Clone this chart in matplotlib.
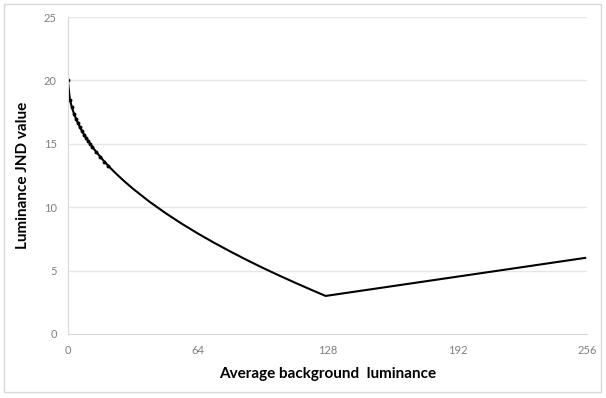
import matplotlib
matplotlib.use("Agg")
import matplotlib.pyplot as plt
from matplotlib.patches import Rectangle

# background luminance samples and JND values
bg = [0, 1, 2, 3, 4, 5, 6, 7, 8, 9, 10, 11, 12, 14, 16, 18, 20, 24, 28, 32,
      40, 48, 56, 64, 72, 80, 88, 96, 104, 112, 120, 127, 128, 160, 192, 224, 255]
jnd = [20.0, 18.49, 17.87, 17.39, 16.98, 16.63, 16.30, 16.01, 15.73, 15.47, 15.23,
       15.00, 14.77, 14.36, 13.97, 13.60, 13.25, 12.61, 12.02, 11.47,
       10.46, 9.55, 8.71, 7.93, 7.20, 6.51, 5.85, 5.22, 4.62, 4.04, 3.48, 3.00,
       3.02, 3.77, 4.52, 5.27, 6.00]

xticks = [0, 64, 128, 192, 256]
yticks = [0, 5, 10, 15, 20, 25]

plt.rcParams['font.family'] = ['Lato', 'DejaVu Sans']

fig = plt.figure(figsize=(6.06, 3.98), dpi=100)
fig.patches.append(Rectangle((0.007, 0.015), 0.985, 0.975, transform=fig.transFigure,
                             fill=False, edgecolor='#d9d9d9', linewidth=1))
ax = fig.add_axes([0.112, 0.161, 0.857, 0.796])

# dots only show where the curve is steep
ax.plot(bg, jnd, color='black', linewidth=1.5, marker='o', markersize=1.8,
        markevery=list(range(0, 17)))

ax.set_xlim(0, 256)
ax.set_ylim(0, 25)
ax.set_xticks(xticks)
ax.set_yticks(yticks)
ax.grid(axis='y', color='#e6e6e6', linewidth=1)
ax.set_axisbelow(True)
for s in ['top', 'right']:
    ax.spines[s].set_visible(False)
for s in ['left', 'bottom']:
    ax.spines[s].set_color('#d9d9d9')
ax.tick_params(length=0, colors='#7f7f7f', labelsize=8, pad=8)

ax.set_xlabel('Average background  luminance', fontsize=11, fontweight='bold', labelpad=8)
ax.set_ylabel('Luminance JND value', fontsize=11, fontweight='bold', labelpad=10)

fig.savefig('out.png', dpi=100)
